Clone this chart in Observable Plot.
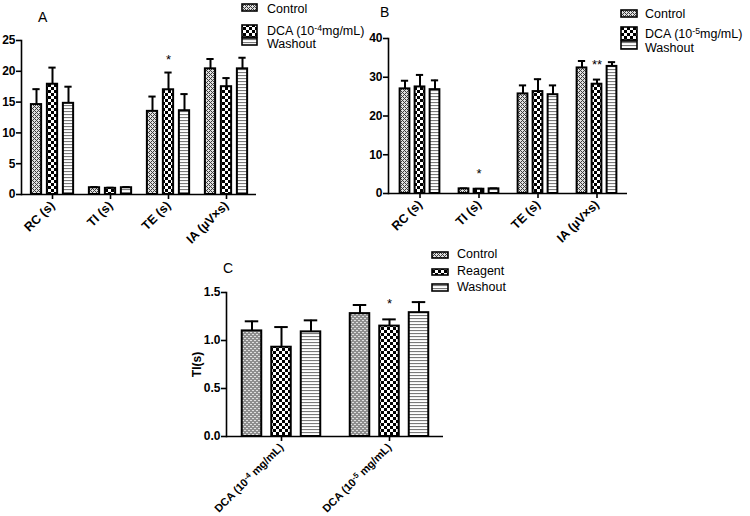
<!DOCTYPE html>
<html><head><meta charset="utf-8">
<script src="https://cdn.jsdelivr.net/npm/d3@7"></script>
<script src="https://cdn.jsdelivr.net/npm/@observablehq/plot@0.6"></script>
<style>
body{margin:0;background:#fff;}
#wrap{position:relative;width:750px;height:516px;overflow:hidden;font-family:"Liberation Sans",Arial,sans-serif;}
.pane{position:absolute;}
#overlay{position:absolute;left:0;top:0;pointer-events:none;}
</style></head><body>
<div id="wrap">
<svg id="overlay" width="750" height="516" font-family="Liberation Sans, Arial, sans-serif">
<defs>
<pattern id="pCtrl" width="4" height="4" patternUnits="userSpaceOnUse">
<rect width="4" height="4" fill="#e0e0e0"/>
<rect x="0" y="0" width="1" height="1" fill="#3c3c3c"/><rect x="1" y="1" width="1" height="1" fill="#3c3c3c"/>
<rect x="2" y="2" width="1" height="1" fill="#3c3c3c"/><rect x="3" y="3" width="1" height="1" fill="#3c3c3c"/>
<rect x="1" y="3" width="1" height="1" fill="#3c3c3c"/><rect x="3" y="1" width="1" height="1" fill="#3c3c3c"/>
</pattern>
<pattern id="pDCA" width="6" height="6" patternUnits="userSpaceOnUse">
<rect width="6" height="6" fill="#fff"/><rect x="0" y="0" width="3" height="3" fill="#000"/><rect x="3" y="3" width="3" height="3" fill="#000"/>
</pattern>
<pattern id="pWash" width="4" height="3" patternUnits="userSpaceOnUse">
<rect width="4" height="3" fill="#fff"/><rect x="0" y="0" width="4" height="1.1" fill="#7a7a7a"/>
</pattern>
</defs>
<g id="legends"></g>
</svg>
</div>
<script>
// ---------- data ----------
const categoriesAB = ["RC (s)", "TI (s)", "TE (s)", "IA (µV×s)"];
const seriesA = ["Control", "DCA (10^-4mg/mL)", "Washout"];
const seriesB = ["Control", "DCA (10^-5mg/mL)", "Washout"];
const seriesC = ["Control", "Reagent", "Washout"];
const categoriesC = ["DCA (10^-4 mg/mL)", "DCA (10^-5 mg/mL)"];

// Panel A means and upper error (SEM)
const aControl = [14.6, 1.1, 13.5, 20.4];
const aControlErr = [2.5, 0.1, 2.4, 1.6];
const aDCA = [17.9, 1.0, 17.0, 17.5];
const aDCAErr = [2.7, 0.1, 2.8, 1.4];
const aWash = [14.8, 1.1, 13.6, 20.4];
const aWashErr = [2.7, 0.1, 2.7, 1.8];
const aStars = [{cat: "TE (s)", s: 1, label: "*"}];

// Panel B
const bControl = [27.0, 1.2, 25.7, 32.4];
const bControlErr = [2.1, 0.1, 2.2, 1.8];
const bDCA = [27.5, 1.1, 26.3, 28.2];
const bDCAErr = [3.1, 0.1, 3.2, 1.2];
const bWash = [26.8, 1.2, 25.5, 32.8];
const bWashErr = [2.4, 0.1, 2.4, 1.1];
const bStars = [{cat: "TI (s)", s: 1, label: "*"}, {cat: "IA (µV×s)", s: 1, label: "**"}];

// Panel C (TI in s)
const cControl = [1.10, 1.28];
const cControlErr = [0.10, 0.09];
const cReagent = [0.93, 1.15];
const cReagentErr = [0.21, 0.07];
const cWash = [1.09, 1.29];
const cWashErr = [0.12, 0.11];
const cStars = [{cat: "DCA (10^-5 mg/mL)", s: 1, label: "*"}];

const patterns = ["url(#pCtrl)", "url(#pDCA)", "url(#pWash)"];
const NS = "http://www.w3.org/2000/svg";

// render "10^-4" as 10 with a superscript -4 inside a text element
function supify(textEl) {
  const s = textEl.textContent;
  const m = s.match(/^(.*?)\^(-?\d+)(.*)$/);
  if (!m) return;
  textEl.textContent = "";
  const t1 = document.createElementNS(NS, "tspan"); t1.textContent = m[1];
  const t2 = document.createElementNS(NS, "tspan"); t2.textContent = m[2];
  t2.setAttribute("dy", "-0.45em"); t2.setAttribute("font-size", "0.7em");
  const t3 = document.createElementNS(NS, "tspan"); t3.textContent = m[3];
  t3.setAttribute("dy", "0.32em");
  textEl.append(t1, t2, t3);
}

function rowsOf(categories, means, errs) {
  return categories.map((c, j) => ({cat: c, mean: means[j], upper: means[j] + errs[j]}));
}

function panel(o) {
  const bw = (o.width - o.ml - o.mr) / o.categories.length;
  const marks = [];
  o.groups.forEach((g, i) => {
    const rows = rowsOf(o.categories, g.means, g.errs);
    const dx = (i - 1) * o.step;
    marks.push(Plot.ruleX(rows, {x: "cat", y1: "mean", y2: "upper", dx, stroke: "black", strokeWidth: 2}));
    marks.push(Plot.tickY(rows, {x: "cat", y: "upper", dx, insetLeft: (bw - o.capW) / 2, insetRight: (bw - o.capW) / 2, stroke: "black", strokeWidth: 2}));
    marks.push(Plot.barY(rows, {x: "cat", y: "mean", dx, insetLeft: (bw - o.barW) / 2, insetRight: (bw - o.barW) / 2, fill: patterns[i], stroke: "black", strokeWidth: 2}));
  });
  o.stars.forEach(st => {
    const g = o.groups[st.s];
    const j = o.categories.indexOf(st.cat);
    marks.push(Plot.text([{cat: st.cat, y: g.means[j] + g.errs[j], label: st.label}], {
      x: "cat", y: "y", text: "label", dx: (st.s - 1) * o.step, dy: o.starDy,
      fontSize: 13, fontWeight: "normal", fill: "black"
    }));
  });
  marks.push(Plot.ruleY([0], {stroke: "black", strokeWidth: 1.6}));
  marks.push(Plot.frame({anchor: "left", stroke: "black", strokeWidth: 1.6}));
  marks.push(Plot.axisY({ticks: o.yTicks, tickFormat: o.tickFormat, tickSize: 5, tickPadding: 1, strokeWidth: 1.6,
    fontWeight: "bold", fontSize: 12, label: o.ylabel ?? null, labelAnchor: "center", labelArrow: "none", labelOffset: o.labelOffset}));
  marks.push(Plot.axisX({tickRotate: -45, tickSize: 5, tickPadding: 4, strokeWidth: 1.6, fontWeight: "bold", fontSize: o.xFont, label: null}));
  const svg = Plot.plot({
    width: o.width, height: o.height,
    marginLeft: o.ml, marginRight: o.mr, marginTop: o.mt, marginBottom: o.mb,
    x: {domain: o.categories, padding: 0},
    y: {domain: o.yDomain},
    style: {fontFamily: "Liberation Sans, Arial, sans-serif", fontSize: "12px", color: "black", background: "transparent", overflow: "visible"},
    marks
  });
  svg.querySelectorAll("text").forEach(supify);
  return svg;
}

const wrap = document.getElementById("wrap");
function place(node, left, top) {
  const d = document.createElement("div");
  d.className = "pane"; d.style.left = left + "px"; d.style.top = top + "px";
  d.appendChild(node);
  wrap.insertBefore(d, document.getElementById("overlay"));
}

place(panel({
  categories: categoriesAB,
  groups: [{means: aControl, errs: aControlErr}, {means: aDCA, errs: aDCAErr}, {means: aWash, errs: aWashErr}],
  stars: aStars, yDomain: [0, 25], yTicks: [0, 5, 10, 15, 20, 25], tickFormat: d3.format("d"),
  width: 345, height: 260, ml: 21, mr: 89, mt: 40, mb: 66,
  barW: 11, step: 16, capW: 8, starDy: -13, xFont: 12.5
}), 0, 0);

place(panel({
  categories: categoriesAB,
  groups: [{means: bControl, errs: bControlErr}, {means: bDCA, errs: bDCAErr}, {means: bWash, errs: bWashErr}],
  stars: bStars, yDomain: [0, 40], yTicks: [0, 10, 20, 30, 40], tickFormat: d3.format("d"),
  width: 405, height: 260, ml: 43, mr: 123, mt: 38, mb: 67,
  barW: 10.5, step: 15, capW: 8, starDy: -15, xFont: 12.5
}), 345, 0);

place(panel({
  categories: categoriesC,
  groups: [{means: cControl, errs: cControlErr}, {means: cReagent, errs: cReagentErr}, {means: cWash, errs: cWashErr}],
  stars: cStars, yDomain: [0, 1.5], yTicks: [0, 0.5, 1.0, 1.5], tickFormat: d3.format(".1f"),
  width: 350, height: 276, ml: 76, mr: 57, mt: 52, mb: 80,
  barW: 20, step: 29.5, capW: 14, starDy: -16, xFont: 11, ylabel: "TI(s)", labelOffset: 34
}), 150, 240);

// ---------- legends & panel letters ----------
const lg = document.getElementById("legends");
function el(tag, attrs, text) {
  const e = document.createElementNS(NS, tag);
  for (const k in attrs) e.setAttribute(k, attrs[k]);
  if (text != null) e.textContent = text;
  lg.appendChild(e); return e;
}
function legend(items, sx, sw, boxes, tx, bases, fs) {
  items.forEach((name, i) => {
    el("rect", {x: sx, y: boxes[i][0], width: sw, height: boxes[i][1], fill: patterns[i], stroke: "black", "stroke-width": 1.6});
    supify(el("text", {x: tx, y: bases[i], "font-size": fs, fill: "black"}, name));
  });
}
legend(seriesA, 242, 15, [[4, 7], [25, 12], [38, 7]], 267, [13, 35, 48], 12.5);
legend(seriesB, 621, 16, [[10, 7], [27, 13], [41, 8]], 645, [18, 38, 52], 12.5);
legend(seriesC, 432, 16, [[252, 6], [269, 6], [284, 7]], 457, [258, 275, 291], 12.5);
el("text", {x: 38, y: 22, "font-size": 14}, "A");
el("text", {x: 380, y: 17, "font-size": 14}, "B");
el("text", {x: 223, y: 273, "font-size": 14}, "C");
</script>
</body></html>
